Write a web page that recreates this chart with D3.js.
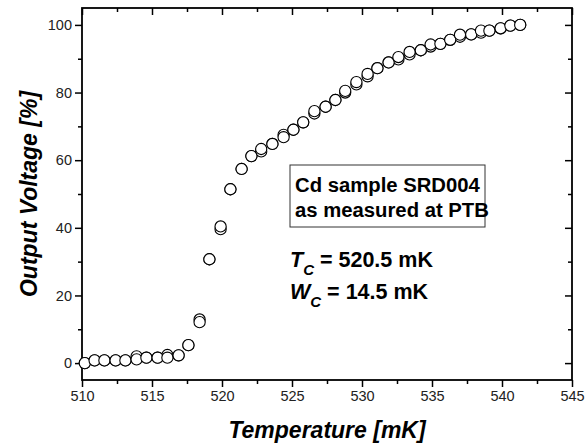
<html>
<head>
  <script src="https://d3js.org/d3.v7.min.js"></script>
  <style>
    body{ margin:0; background:#fff; }
    svg{ display:block; font-family: Arial, "Liberation Sans", sans-serif; }
  </style>
</head>
<body>
  <script type="text/javascript">

    // temperature [mK] of each reading
    var temps = [510.2, 510.9, 511.6, 512.4, 513.1, 513.9, 514.6, 515.4, 516.1, 516.9,
                 517.6, 518.4, 519.1, 519.9, 520.6, 521.4, 522.1, 522.8, 523.6, 524.4,
                 525.1, 525.8, 526.6, 527.4, 528.1, 528.8, 529.6, 530.4, 531.1, 531.9,
                 532.6, 533.4, 534.2, 534.9, 535.6, 536.3, 537.0, 537.8, 538.5, 539.1,
                 539.9, 540.6, 541.3]
    // output voltage [%], two sweeps
    var sweepA = [0.0, 0.8, 0.8, 0.8, 0.8, 2.0, 1.6, 1.6, 2.4, 2.3,
                  5.3, 12.9, 30.7, 39.6, 51.4, 57.4, 61.2, 62.6, 64.8, 67.5,
                  69.0, 71.2, 73.8, 75.8, 77.8, 80.0, 82.4, 84.8, 87.2, 88.9,
                  89.8, 91.3, 92.5, 93.6, 94.4, 95.6, 96.5, 97.2, 97.7, 98.3,
                  99.0, 99.8, 100.0]
    var sweepB = [0.0, 0.8, 0.8, 0.8, 0.8, 1.1, 1.6, 1.6, 1.6, 2.3,
                  5.3, 12.1, 30.7, 40.4, 51.4, 57.4, 61.2, 63.3, 64.8, 66.8,
                  69.0, 71.2, 74.5, 75.8, 77.8, 80.5, 83.1, 85.5, 87.2, 88.9,
                  90.5, 92.0, 92.5, 94.2, 94.4, 95.6, 97.1, 97.2, 98.3, 98.3,
                  99.0, 99.8, 100.0]

    var xTicks = [510, 515, 520, 525, 530, 535, 540, 545]
    var yTicks = [0, 20, 40, 60, 80, 100]

    var drawChart = function(width, height){
      var margins = {top: 8, right: 14, bottom: 66, left: 82}
      var svg = d3.select("body").append("svg")
        .attr("width", width)
        .attr("height", height)

      var w = width - margins.left - margins.right
      var h = height - margins.top - margins.bottom

      var xScale = d3.scaleLinear().domain([510, 545]).range([0, w])
      var yScale = d3.scaleLinear().domain([-5, 105]).range([h, 0])

      var plot = svg.append("g")
        .attr('transform', 'translate(' + margins.left + ',' + margins.top + ')')

      var xMinor = d3.range(512.5, 545, 5)
      var yMinor = d3.range(10, 105, 20)

      // bottom + left: ticks outside, with labels
      var xAxis = d3.axisBottom(xScale).tickValues(xTicks).tickSize(7).tickPadding(4)
      var yAxis = d3.axisLeft(yScale).tickValues(yTicks).tickSize(7).tickPadding(3)

      plot.append("g").attr('transform', 'translate(0,' + h + ')').call(xAxis)
      plot.append("g").call(yAxis)
      plot.append("g").attr('transform', 'translate(0,' + h + ')')
        .call(d3.axisBottom(xScale).tickValues(xMinor).tickSize(4).tickFormat(""))
      plot.append("g")
        .call(d3.axisLeft(yScale).tickValues(yMinor).tickSize(4).tickFormat(""))

      // top + right: mirrored ticks pointing inside
      plot.append("g").call(d3.axisBottom(xScale).tickValues(xTicks).tickSize(7).tickFormat(""))
      plot.append("g").call(d3.axisBottom(xScale).tickValues(xMinor).tickSize(4).tickFormat(""))
      plot.append("g").attr('transform', 'translate(' + w + ',0)')
        .call(d3.axisLeft(yScale).tickValues(yTicks).tickSize(7).tickFormat(""))
      plot.append("g").attr('transform', 'translate(' + w + ',0)')
        .call(d3.axisLeft(yScale).tickValues(yMinor).tickSize(4).tickFormat(""))

      plot.selectAll(".domain").remove()
      plot.selectAll(".tick line").attr("stroke", "#000").attr("stroke-width", 1.5)
      plot.selectAll(".tick text").attr("font-size", 14.5).attr("fill", "#222")
        .attr("font-family", 'Arial, "Liberation Sans", sans-serif')

      plot.append("rect")
        .attr("x", 0).attr("y", 0).attr("width", w).attr("height", h)
        .attr("fill", "none").attr("stroke", "#000").attr("stroke-width", 1.8)

      // data
      var sweeps = [sweepA, sweepB]
      sweeps.forEach(function(vals){
        plot.append("g").selectAll("circle")
          .data(vals)
          .enter()
          .append("circle")
          .attr("cx", function(d, i){ return xScale(temps[i]) })
          .attr("cy", function(d){ return yScale(d) })
          .attr("r", 5.6)
          .attr("fill", "#fff")
          .attr("stroke", "#000")
          .attr("stroke-width", 1.1)
      })

      // annotation box
      var box = svg.append("g")
      box.append("rect")
        .attr("x", 290).attr("y", 165).attr("width", 195).attr("height", 62)
        .attr("fill", "#fff").attr("stroke", "#333").attr("stroke-width", 1)
      box.append("text").attr("x", 295).attr("y", 192)
        .attr("font-size", 20.3).attr("font-weight", "bold").text("Cd sample SRD004")
      box.append("text").attr("x", 295).attr("y", 217)
        .attr("font-size", 20.3).attr("font-weight", "bold").text("as measured at PTB")

      var params = [["T", " = 520.5 mK", 267], ["W", " = 14.5 mK", 299]]
      params.forEach(function(p){
        var t = svg.append("text").attr("x", 290).attr("y", p[2])
          .attr("font-size", 21.5).attr("font-weight", "bold")
        t.append("tspan").attr("font-style", "italic").text(p[0])
        t.append("tspan").attr("font-style", "italic").attr("font-size", 15)
          .attr("dy", 8).text("C")
        t.append("tspan").attr("dy", -8).text(p[1])
      })

      // axis titles
      svg.append("text")
        .attr("x", margins.left + w / 2).attr("y", 438)
        .attr("text-anchor", "middle")
        .attr("font-size", 23).attr("font-weight", "bold").attr("font-style", "italic")
        .text("Temperature [mK]")
      svg.append("text")
        .attr("transform", "translate(37," + (margins.top + h / 2) + ") rotate(-90)")
        .attr("text-anchor", "middle")
        .attr("font-size", 23).attr("font-weight", "bold").attr("font-style", "italic")
        .text("Output Voltage [%]")
    }

    drawChart(586, 446)

  </script>
</body>
</html>
